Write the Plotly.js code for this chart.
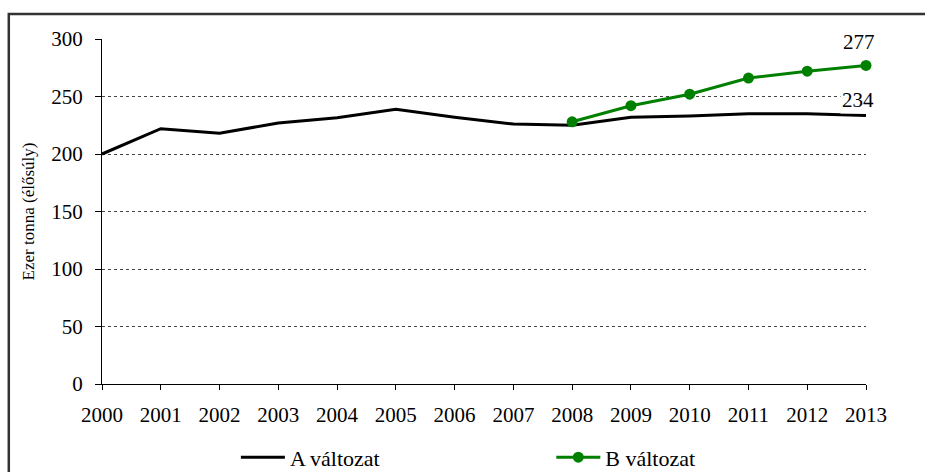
<!DOCTYPE html>
<html>
<head>
<meta charset="utf-8">
<script src="https://cdn.plot.ly/plotly-3.0.1.min.js"></script>
<style>
html,body{margin:0;padding:0;background:#fff;}
#chart{width:925px;height:472px;}
</style>
</head>
<body>
<div id="chart"></div>
<script>
const years = [2000,2001,2002,2003,2004,2005,2006,2007,2008,2009,2010,2011,2012,2013];
const seriesA = [200,222,218,227,231.5,239,232,226,225,232,233,235,235,233.5];
const yearsB = [2008,2009,2010,2011,2012,2013];
const seriesB = [228,242,252,266,272,277];
const nameA = "A változat";
const nameB = "B változat";
const labelA = "234";
const labelB = "277";
const yTitle = "Ezer tonna (élősúly)";

const serif = "Liberation Serif";

const traces = [
  {x: years, y: seriesA, name: nameA, type: "scatter", mode: "lines",
   line: {color: "#000000", width: 3}, legend: "legend"},
  {x: yearsB, y: seriesB, name: nameB, type: "scatter", mode: "lines+markers", cliponaxis: false,
   line: {color: "#008000", width: 3}, marker: {color: "#008000", size: 11}, legend: "legend2"}
];

const legendBase = {
  orientation: "h", xref: "container", yref: "container", y: 0.031,
  xanchor: "left", yanchor: "middle", itemwidth: 44,
  bgcolor: "rgba(0,0,0,0)", font: {family: serif, size: 22, color: "#000"}
};

const layout = {
  width: 925, height: 472,
  margin: {l: 102, r: 59, t: 39, b: 88},
  paper_bgcolor: "rgba(0,0,0,0)",
  plot_bgcolor: "rgba(0,0,0,0)",
  font: {family: serif, color: "#000", size: 20},
  showlegend: true,
  xaxis: {
    range: [2000, 2013], tickvals: years, ticktext: years.map(String),
    showgrid: false, zeroline: false, showline: true, linecolor: "#000", linewidth: 1,
    ticks: "outside", ticklen: 5, tickcolor: "#000", tickwidth: 1,
    ticklabelstandoff: 7,
    tickfont: {family: serif, size: 21, color: "#000"}
  },
  yaxis: {
    range: [0, 300], tickvals: [0,50,100,150,200,250,300],
    showgrid: true, gridcolor: "#444", gridwidth: 1, griddash: "3px,3px",
    zeroline: false, showline: true, linecolor: "#000", linewidth: 1,
    ticks: "outside", ticklen: 6, tickcolor: "#000", tickwidth: 1,
    ticklabelstandoff: 8,
    tickfont: {family: serif, size: 21, color: "#000"},
    title: {text: yTitle, font: {family: serif, size: 17, color: "#000"}, standoff: 12}
  },
  legend: Object.assign({}, legendBase, {x: 0.255}),
  legend2: Object.assign({}, legendBase, {x: 0.596}),
  annotations: [
    {x: years[years.length-1], y: seriesA[seriesA.length-1], xref: "x", yref: "y",
     text: labelA, showarrow: false, xshift: -8, yshift: 15, bgcolor: "#fff",
     font: {family: serif, size: 21, color: "#000"}},
    {x: yearsB[yearsB.length-1], y: seriesB[seriesB.length-1], xref: "x", yref: "y",
     text: labelB, showarrow: false, xshift: -7, yshift: 23,
     font: {family: serif, size: 21, color: "#000"}}
  ],
  shapes: [
    {type: "rect", xref: "paper", yref: "paper", x0: -0.122, x1: 1.2, y0: -0.5, y1: 1.0725,
     line: {color: "#333", width: 2.5}, fillcolor: "rgba(0,0,0,0)", layer: "below"}
  ]
};

Plotly.newPlot("chart", traces, layout, {displayModeBar: false, staticPlot: true});
</script>
</body>
</html>
